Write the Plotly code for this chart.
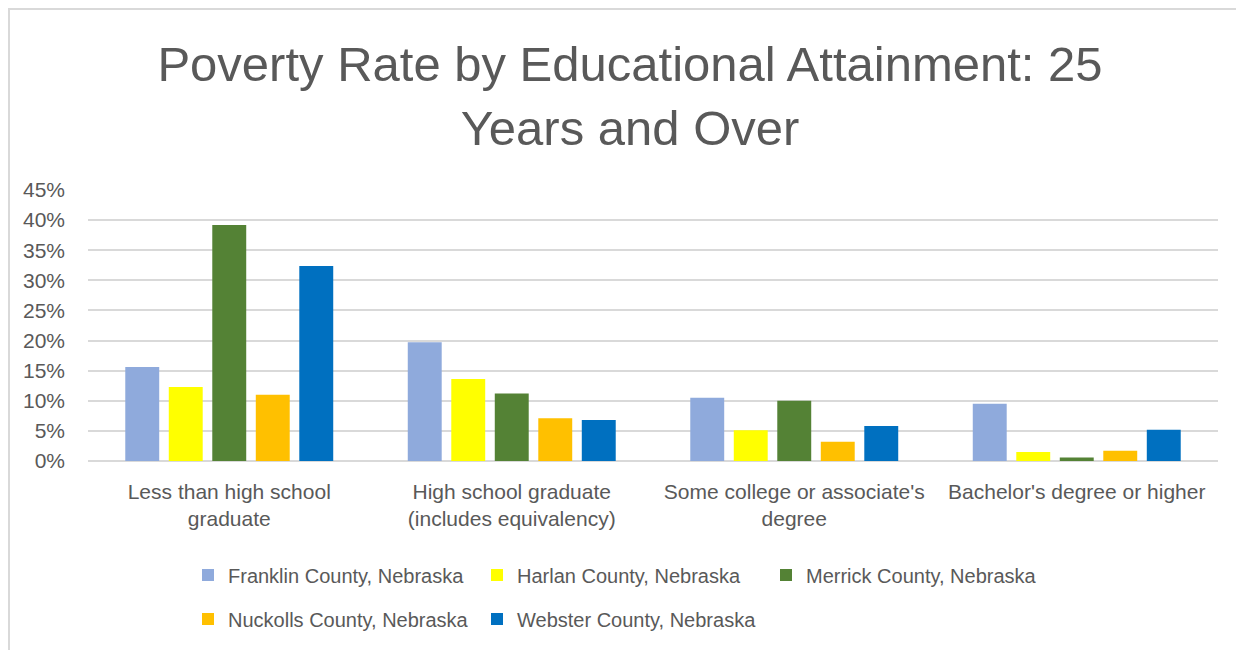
import plotly.graph_objects as go

categories = ["Less than high school<br>graduate", "High school graduate<br>(includes equivalency)",
              "Some college or associate's<br>degree", "Bachelor's degree or higher"]
series_names = ["Franklin County, Nebraska", "Harlan County, Nebraska", "Merrick County, Nebraska",
                "Nuckolls County, Nebraska", "Webster County, Nebraska"]
franklin = [0.156, 0.197, 0.105, 0.095]
harlan = [0.123, 0.136, 0.051, 0.015]
merrick = [0.392, 0.112, 0.100, 0.006]
nuckolls = [0.110, 0.071, 0.032, 0.017]
webster = [0.324, 0.068, 0.058, 0.052]
colors = ["#8FAADC", "#FFFF00", "#548235", "#FFC000", "#0070C0"]
legend_ids = ["legend", "legend", "legend", "legend2", "legend2"]
tick_vals = [0, 0.05, 0.10, 0.15, 0.20, 0.25, 0.30, 0.35, 0.40, 0.45]
tick_text = ["0%", "5%", "10%", "15%", "20%", "25%", "30%", "35%", "40%", "45%"]

FONT = "Liberation Sans"
GRAY = "#595959"
L, R, T, B = 80, 34, 182, 197
PW = 1244 - L - R
PH = 650 - T - B

fig = go.Figure()
for name, vals, c, lg in zip(series_names, [franklin, harlan, merrick, nuckolls, webster], colors, legend_ids):
    fig.add_trace(go.Bar(x=categories, y=vals, name=name, legend=lg,
                         marker=dict(color=c, line=dict(width=0))))

leg_common = dict(orientation="h", x=(180 - L) / PW, xanchor="left", yanchor="middle",
                  entrywidth=244, entrywidthmode="pixels", bgcolor="rgba(0,0,0,0)",
                  font=dict(family=FONT, size=20, color=GRAY), traceorder="normal")

fig.update_layout(
    width=1244, height=650,
    paper_bgcolor="white", plot_bgcolor="white",
    margin=dict(l=L, r=R, t=T, b=B),
    barmode="group", bargap=0.23, bargroupgap=0.22,
    font=dict(family=FONT, color=GRAY, size=21),
    title=dict(text="Poverty Rate by Educational Attainment: 25<br>Years and Over",
               x=0.5, xanchor="center", xref="container", y=1 - 73 / 650, yanchor="middle",
               yref="container", font=dict(family=FONT, size=49, color=GRAY)),
    legend=dict(**leg_common, y=(453 - 567) / PH),
    legend2=dict(**leg_common, y=(453 - 611) / PH),
    xaxis=dict(showgrid=False, showline=False, ticks="", ticklabelstandoff=16,
               tickfont=dict(size=21, color=GRAY)),
    yaxis=dict(range=[0, 0.45], tickvals=tick_vals, ticktext=tick_text, showgrid=True,
               gridcolor="#D9D9D9", gridwidth=1.5, zeroline=True, zerolinecolor="#D9D9D9",
               zerolinewidth=1.5, showline=False, ticklabelstandoff=22,
               tickfont=dict(size=21, color=GRAY)),
)
x_left = -(L - 1) / PW
x_right = 1 + (R + 40) / PW
y_top = 1 + (T - 1) / PH
y_bot = -(B + 40) / PH
fig.add_shape(type="path", xref="paper", yref="paper",
              path=f"M {x_left} {y_bot} L {x_left} {y_top} L {x_right} {y_top}",
              line=dict(color="#D9D9D9", width=2), layer="below")
fig.write_html("out.html")
